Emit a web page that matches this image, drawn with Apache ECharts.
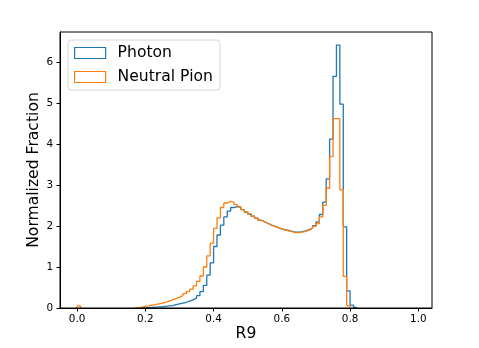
<!DOCTYPE html>
<html>
<head>
<meta charset="utf-8">
<script src="https://cdn.jsdelivr.net/npm/echarts@6/dist/echarts.min.js"></script>
<style>
html,body{margin:0;padding:0;background:#fff;}
#chart{width:479px;height:348px;}
</style>
</head>
<body>
<div id="chart"></div>
<script>
// Histogram: 100 bins of width 0.01 starting at 0
const binStart = 0;
const binWidth = 0.01;
const photon = [
  0,0,0,0,0,0,0,0,0,0,
  0,0,0,0,0,0,0,0,0,0.005,
  0.01,0.015,0.02,0.025,0.03,0.04,0.05,0.06,0.08,0.10,
  0.12,0.14,0.17,0.20,0.24,0.30,0.40,0.55,0.80,1.10,
  1.50,1.78,2.02,2.22,2.36,2.45,2.48,2.46,2.40,2.34,
  2.29,2.24,2.19,2.14,2.10,2.06,2.02,1.99,1.96,1.93,
  1.91,1.89,1.87,1.85,1.85,1.86,1.88,1.91,1.95,2.01,
  2.10,2.28,2.58,3.15,4.12,5.65,6.41,4.97,1.98,0.42,
  0.07,0.015,0,0,0,0,0,0,0,0,
  0,0,0,0,0,0,0,0,0,0
];
const pion = [
  0.05,0,0,0,0,0,0,0,0,0,
  0,0,0,0,0,0,0,0.01,0.02,0.04,
  0.05,0.07,0.08,0.10,0.12,0.14,0.17,0.20,0.23,0.26,
  0.30,0.35,0.40,0.46,0.54,0.65,0.78,1.00,1.27,1.58,
  1.94,2.20,2.45,2.56,2.60,2.58,2.52,2.46,2.40,2.35,
  2.30,2.24,2.19,2.14,2.10,2.06,2.02,1.99,1.96,1.93,
  1.90,1.88,1.86,1.84,1.84,1.85,1.87,1.90,1.94,1.99,
  2.06,2.22,2.50,2.92,3.69,4.62,4.62,2.88,0.77,0.06,
  0,0,0,0,0,0,0,0,0,0,
  0,0,0,0,0,0,0,0,0,0
];
const seriesNames = ['Photon', 'Neutral Pion'];
const xTicks = [0.0, 0.2, 0.4, 0.6, 0.8, 1.0];
const yTicks = [0, 1, 2, 3, 4, 5, 6];

// Build step outline (matplotlib histtype='step'), skipping zero runs
function stepOutline(vals) {
  const pts = [];
  let inRun = false;
  for (let i = 0; i < vals.length; i++) {
    const lo = binStart + i * binWidth;
    const hi = lo + binWidth;
    const v = vals[i];
    if (v > 0) {
      if (!inRun) { pts.push([lo, 0]); inRun = true; }
      pts.push([lo, v]); pts.push([hi, v]);
    } else if (inRun) {
      pts.push([lo, 0]); pts.push(null); inRun = false;
    }
  }
  if (inRun) pts.push([binStart + vals.length * binWidth, 0]);
  return pts.map(p => p === null ? [null, null] : p);
}

const colors = ['#1f77b4', '#ff7f0e'];
const chart = echarts.init(document.getElementById('chart'), null, {renderer: 'canvas'});
const fontFamily = 'DejaVu Sans';

// Empty bar series only provide the legend's outlined-patch icons
const legendSeries = seriesNames.map((n, i) => ({
  name: n, type: 'bar', data: [],
  itemStyle: {color: 'rgba(255,255,255,0)', borderColor: colors[i], borderWidth: 1.2}
}));
const histSeries = [photon, pion].map((vals, i) => ({
  name: seriesNames[i],
  type: 'line',
  data: stepOutline(vals),
  showSymbol: false,
  symbol: 'none',
  connectNulls: false,
  color: colors[i],
  lineStyle: {color: colors[i], width: 1.3},
  itemStyle: {color: colors[i]},
  z: 2 + i
}));

chart.setOption({
  animation: false,
  textStyle: {fontFamily: fontFamily},
  grid: {left: 60, right: 47, top: 32, bottom: 40, show: true, borderColor: '#000', borderWidth: 1, z: 10, backgroundColor: 'transparent'},
  legend: {
    left: 68, top: 40,
    orient: 'vertical',
    padding: [5, 7, 5, 6],
    itemGap: 8,
    itemWidth: 31, itemHeight: 11,
    borderColor: '#d6d6d6', borderWidth: 1, borderRadius: 3,
    backgroundColor: 'rgba(255,255,255,0.8)',
    textStyle: {fontFamily: fontFamily, fontSize: 15.6, color: '#000', padding: [0, 0, 0, 7]},
    data: seriesNames.map((n, i) => ({
      name: n, icon: 'rect',
      itemStyle: {color: 'rgba(255,255,255,0)', borderColor: colors[i], borderWidth: 1.2}
    }))
  },
  xAxis: {
    type: 'value', min: -0.05, max: 1.04, z: 10,
    name: 'R9', nameLocation: 'middle', nameGap: 18, nameMoveOverlap: false,
    nameTextStyle: {fontFamily: fontFamily, fontSize: 15.6, color: '#000'},
    splitLine: {show: false},
    axisLine: {show: true, onZero: false, lineStyle: {color: '#000', width: 1}},
    axisTick: {show: true, length: 3.5, lineStyle: {color: '#000'}, customValues: xTicks},
    axisLabel: {fontFamily: fontFamily, fontSize: 10.4, color: '#000', margin: 6,
      customValues: xTicks, formatter: v => Number(v).toFixed(1)}
  },
  yAxis: {
    type: 'value', min: 0, max: 6.73, z: 10,
    name: 'Normalized Fraction', nameLocation: 'middle', nameGap: 18, nameMoveOverlap: false,
    nameTextStyle: {fontFamily: fontFamily, fontSize: 15.6, color: '#000'},
    splitLine: {show: false},
    axisLine: {show: true, onZero: false, lineStyle: {color: '#000', width: 1}},
    axisTick: {show: true, length: 3.5, lineStyle: {color: '#000'}, customValues: yTicks},
    axisLabel: {fontFamily: fontFamily, fontSize: 10.4, color: '#000', margin: 7,
      customValues: yTicks, formatter: v => String(Math.round(v))}
  },
  series: legendSeries.concat(histSeries)
});
</script>
</body>
</html>
